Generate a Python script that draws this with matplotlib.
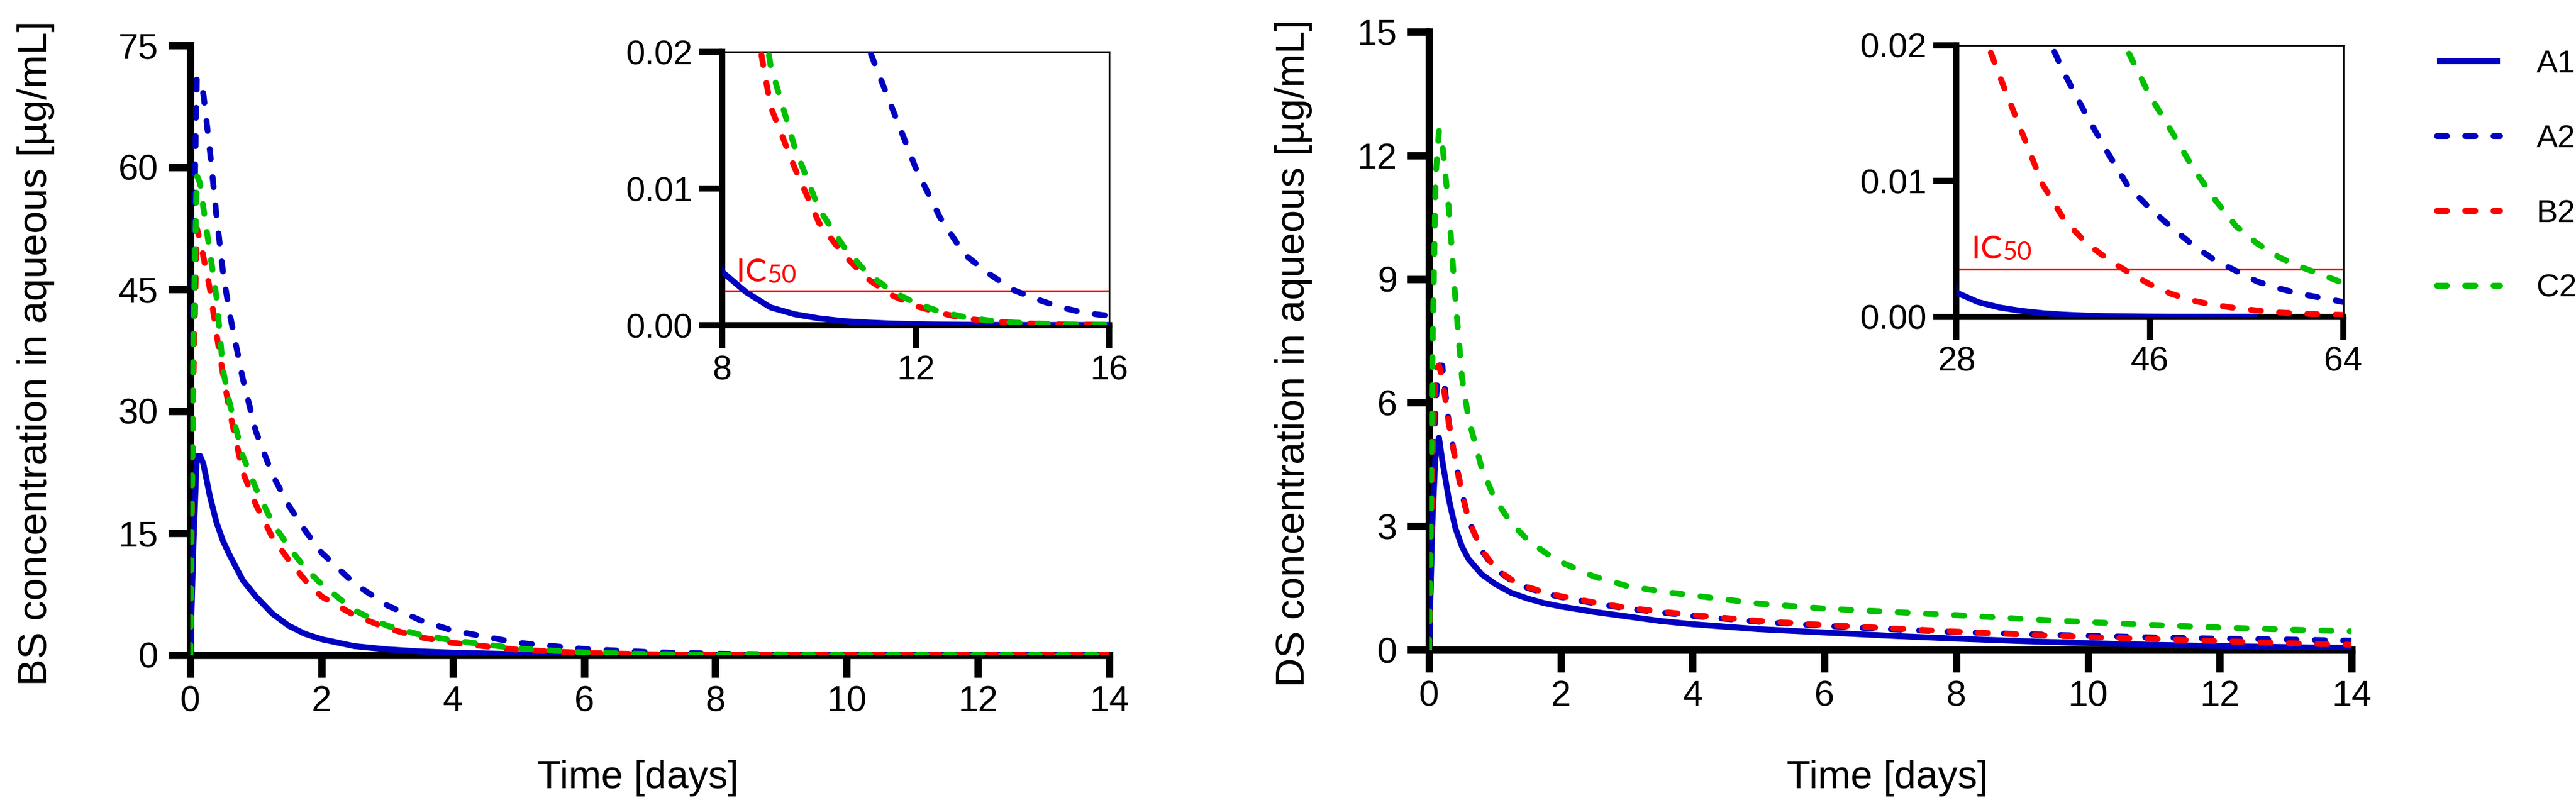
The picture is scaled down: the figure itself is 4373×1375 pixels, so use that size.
import numpy as np
import matplotlib
matplotlib.use('Agg')
import matplotlib.pyplot as plt
from matplotlib.ticker import FormatStrFormatter

plt.rcParams['font.family'] = ['Liberation Sans', 'DejaVu Sans']

# ---------------- data: BS (left panel) ----------------
t_bs = [0, 0.05, 0.1, 0.15, 0.2, 0.3, 0.4, 0.5, 0.6, 0.8, 1.0, 1.25, 1.5, 1.75, 2.0, 2.5, 3.0, 3.5, 4.0,
        5, 6, 7,
        8, 8.5, 9, 9.5, 10, 10.5, 11, 11.5, 12, 12.5, 13, 13.5, 14, 14.5, 15, 15.5, 16]
bs_a1 = [0, 14, 24.5, 24.5, 23.5, 19.5, 16.3, 14, 12.3, 9.2, 7.2, 5.1, 3.6, 2.6, 1.95, 1.1, 0.7, 0.45, 0.3,
         0.1, 0.035, 0.012,
         0.0039, 0.0024, 0.0013, 0.0008, 0.0005, 0.0003, 0.0002, 0.00012, 0.00008, 0.00005, 0.00003,
         0.00002, 0.00001, 0.00001, 0.00001, 0.00001, 0.00001]
bs_a2 = [0, 50, 71, 70.5, 69, 62, 54, 47, 42, 34, 27.5, 22.2, 18.4, 15.3, 12.6, 8.8, 6.1, 4.3, 3.0,
         1.5, 0.75, 0.36,
         0.17, 0.115, 0.08, 0.055, 0.039, 0.028, 0.0205, 0.016, 0.0115, 0.0079, 0.0052, 0.0038,
         0.0026, 0.0019, 0.0013, 0.0009, 0.00068]
bs_b2 = [0, 35, 52.5, 51, 49, 45, 39.5, 34.5, 30, 22.5, 18.5, 14.5, 11.7, 9.2, 7.2, 4.9, 3.3, 2.2, 1.5,
         0.65, 0.26, 0.1,
         0.038, 0.026, 0.016, 0.0115, 0.0075, 0.0052, 0.0034, 0.0022, 0.0014, 0.0009, 0.0005, 0.0003,
         0.00018, 0.0001, 0.00006, 0.00004, 0.00002]
bs_c2 = [0, 40, 59, 58, 55, 49.5, 44, 35, 31, 24.5, 20.5, 16.3, 13.3, 10.7, 8.7, 5.5, 3.6, 2.5, 1.8,
         0.8, 0.32, 0.12,
         0.045, 0.03, 0.019, 0.013, 0.0085, 0.0058, 0.0038, 0.0025, 0.0016, 0.001, 0.0006, 0.00035,
         0.0002, 0.00012, 0.00007, 0.00004, 0.00002]
bs_ic50 = 0.0025

# ---------------- data: DS (right panel) ----------------
nan = float('nan')
t_ds = [0, 0.05, 0.1, 0.15, 0.2, 0.3, 0.4, 0.5, 0.6, 0.8, 1.0, 1.25, 1.5, 1.75, 2.0, 2.5, 3.0, 3.5, 4.0,
        5, 6, 7, 8, 9, 10, 11, 12, 13, 14,
        28, 30, 32, 34, 36, 38, 40, 42, 44, 46, 48, 50, 52, 54, 56, 58, 60, 62, 64]
ds_a1 = [0, 3.1, 4.8, 5.15, 4.6, 3.65, 2.95, 2.5, 2.2, 1.83, 1.6, 1.38, 1.24, 1.13, 1.05, 0.92, 0.81, 0.7, 0.62,
         0.5, 0.42, 0.34, 0.27, 0.21, 0.16, 0.12, 0.09, 0.065, 0.045,
         0.0018, 0.0011, 0.0007, 0.00045, 0.00028, 0.00017, 0.0001, 0.00006, 0.00004, 0.00002,
         0.00001, 0.00001, 0.00001, 0.00001, 0.00001, nan, nan, nan, nan]
ds_a2 = [0, 3.5, 6.0, 6.9, 6.9, 5.5, 4.6, 3.8, 3.15, 2.4, 1.97, 1.68, 1.5, 1.37, 1.28, 1.13, 1.0, 0.91, 0.82,
         0.68, 0.58, 0.5, 0.43, 0.38, 0.34, 0.3, 0.27, 0.25, 0.22,
         0.045, 0.037, 0.031, 0.026, 0.0215, 0.018, 0.015, 0.0122, 0.0096, 0.008, 0.0066, 0.0053,
         0.0042, 0.0034, 0.0026, 0.0021, 0.0017, 0.0014, 0.0011]
ds_b2 = [0, 4.5, 6.8, 6.9, 6.6, 5.5, 4.6, 3.8, 3.15, 2.42, 1.99, 1.7, 1.52, 1.39, 1.3, 1.15, 1.02, 0.93, 0.84,
         0.7, 0.6, 0.52, 0.44, 0.37, 0.31, 0.26, 0.21, 0.16, 0.12,
         0.027, 0.022, 0.0178, 0.0138, 0.0098, 0.0072, 0.0055, 0.0043, 0.0033, 0.0024, 0.0017, 0.0012,
         0.00088, 0.00065, 0.00047, 0.00033, 0.00025, 0.00019, 0.00015]
ds_c2 = [0, 7, 11.5, 12.6, 12.3, 10.7, 8.5, 6.6, 5.6, 4.4, 3.65, 3.07, 2.66, 2.37, 2.13, 1.78, 1.55, 1.42, 1.32,
         1.12, 1.0, 0.92, 0.84, 0.75, 0.67, 0.6, 0.54, 0.49, 0.45,
         0.1, 0.085, 0.07, 0.057, 0.047, 0.039, 0.031, 0.025, 0.0195, 0.0163, 0.0137, 0.011,
         0.0087, 0.0067, 0.0054, 0.0044, 0.0037, 0.0031, 0.0025]
ds_ic50 = 0.0035

series_names = ['A1', 'A2', 'B2', 'C2']
series_colors = ['#0000C0', '#0000C0', '#FF0000', '#00C000']
DASH = (0, (1.7, 3.1))
series_styles = ['-', DASH, DASH, DASH]

main_yticks_bs = [0, 15, 30, 45, 60, 75]
main_yticks_ds = [0, 3, 6, 9, 12, 15]
main_xticks = [0, 2, 4, 6, 8, 10, 12, 14]
inset_yticks = [0.0, 0.01, 0.02]
inset_xticks_bs = [8, 12, 16]
inset_xticks_ds = [28, 46, 64]

# ---------------- figure ----------------
W, H = 4373, 1375
fig = plt.figure(figsize=(W / 100, H / 100), dpi=100)


def frac(x0, y0, x1, y1):
    return [x0 / W, 1 - y1 / H, (x1 - x0) / W, (y1 - y0) / H]


LW = 7.2


def style_main(ax):
    for s in ['top', 'right']:
        ax.spines[s].set_visible(False)
    for s in ['left', 'bottom']:
        ax.spines[s].set_linewidth(9)
    ax.tick_params(direction='out', length=27, width=9, labelsize=44, pad=12)
    ax.tick_params(axis='x', pad=10)


def style_inset(ax):
    for s in ['top', 'right']:
        ax.spines[s].set_linewidth(2)
    for s in ['left', 'bottom']:
        ax.spines[s].set_linewidth(7.5)
    ax.tick_params(direction='out', length=28, width=7.5, labelsize=42, pad=8)
    ax.yaxis.set_major_formatter(FormatStrFormatter('%.2f'))
    ax.set_facecolor('white')


def plot_series(ax, t, ys, lw=LW):
    lines = []
    for y, c, ls, nm in zip(ys, series_colors, series_styles, series_names):
        ln, = ax.plot(t, y, color=c, linestyle=ls, lw=lw, label=nm, zorder=3,
                      solid_capstyle='butt', dash_capstyle='round')
        lines.append(ln)
    return lines


def ic50_label(ax, x, y):
    t1 = ax.text(x, y, 'IC', color='red', fontsize=39, family=['Lato', 'DejaVu Sans'],
                 ha='left', va='baseline', zorder=4)
    ax.annotate('50', xy=(1, 0), xycoords=t1, xytext=(1, 0), textcoords='offset points',
                color='red', fontsize=31, family=['Lato', 'DejaVu Sans'],
                ha='left', va='bottom', zorder=4)


# Left main
ax1 = fig.add_axes(frac(323, 77, 1883, 1112))
plot_series(ax1, t_bs, [bs_a1, bs_a2, bs_b2, bs_c2])
ax1.set_xlim(0, 14)
ax1.set_ylim(0, 75)
ax1.set_xticks(main_xticks)
ax1.set_yticks(main_yticks_bs)
style_main(ax1)
ax1.set_ylabel('BS concentration in aqueous [µg/mL]', fontsize=49.5)
ax1.yaxis.label.set_va('center')
ax1.yaxis.set_label_coords(-0.168, 0.495)
ax1.set_xlabel('Time [days]', fontsize=48)
ax1.xaxis.label.set_va('baseline')
ax1.xaxis.set_label_coords(0.487, -0.218)

# Left inset
ax1i = fig.add_axes(frac(1226, 88, 1883, 552))
plot_series(ax1i, t_bs, [bs_a1, bs_a2, bs_b2, bs_c2])
ax1i.axhline(bs_ic50, color='red', lw=2.5, zorder=2)
ax1i.set_xlim(8, 16)
ax1i.set_ylim(0, 0.02)
ax1i.set_xticks(inset_xticks_bs)
ax1i.set_yticks(inset_yticks)
style_inset(ax1i)
ic50_label(ax1i, 8.29, 0.0032)

# Right main
ax2 = fig.add_axes(frac(2426, 54, 3992, 1103))
lines = plot_series(ax2, t_ds, [ds_a1, ds_a2, ds_b2, ds_c2])
ax2.set_xlim(0, 14)
ax2.set_ylim(0, 15)
ax2.set_xticks(main_xticks)
ax2.set_yticks(main_yticks_ds)
style_main(ax2)
ax2.set_ylabel('DS concentration in aqueous [µg/mL]', fontsize=49.5)
ax2.yaxis.label.set_va('center')
ax2.yaxis.set_label_coords(-0.147, 0.48)
ax2.set_xlabel('Time [days]', fontsize=48)
ax2.xaxis.label.set_va('baseline')
ax2.xaxis.set_label_coords(0.497, -0.224)

# Right inset
ax2i = fig.add_axes(frac(3321, 77, 3978, 538))
plot_series(ax2i, t_ds, [ds_a1, ds_a2, ds_b2, ds_c2])
ax2i.axhline(ds_ic50, color='red', lw=2.5, zorder=2)
ax2i.set_xlim(28, 64)
ax2i.set_ylim(0, 0.02)
ax2i.set_xticks(inset_xticks_ds)
ax2i.set_yticks(inset_yticks)
style_inset(ax2i)
ic50_label(ax2i, 29.4, 0.0043)

# Legend
fs_leg = 39
fig.legend(handles=lines, labels=series_names, loc='upper left',
           bbox_to_anchor=(4110 / W, 1 - 57 / H), frameon=False, fontsize=fs_leg,
           borderpad=0, handlelength=1.98, handletextpad=1.13, labelspacing=1.42)

fig.savefig('out.png', dpi=100)
